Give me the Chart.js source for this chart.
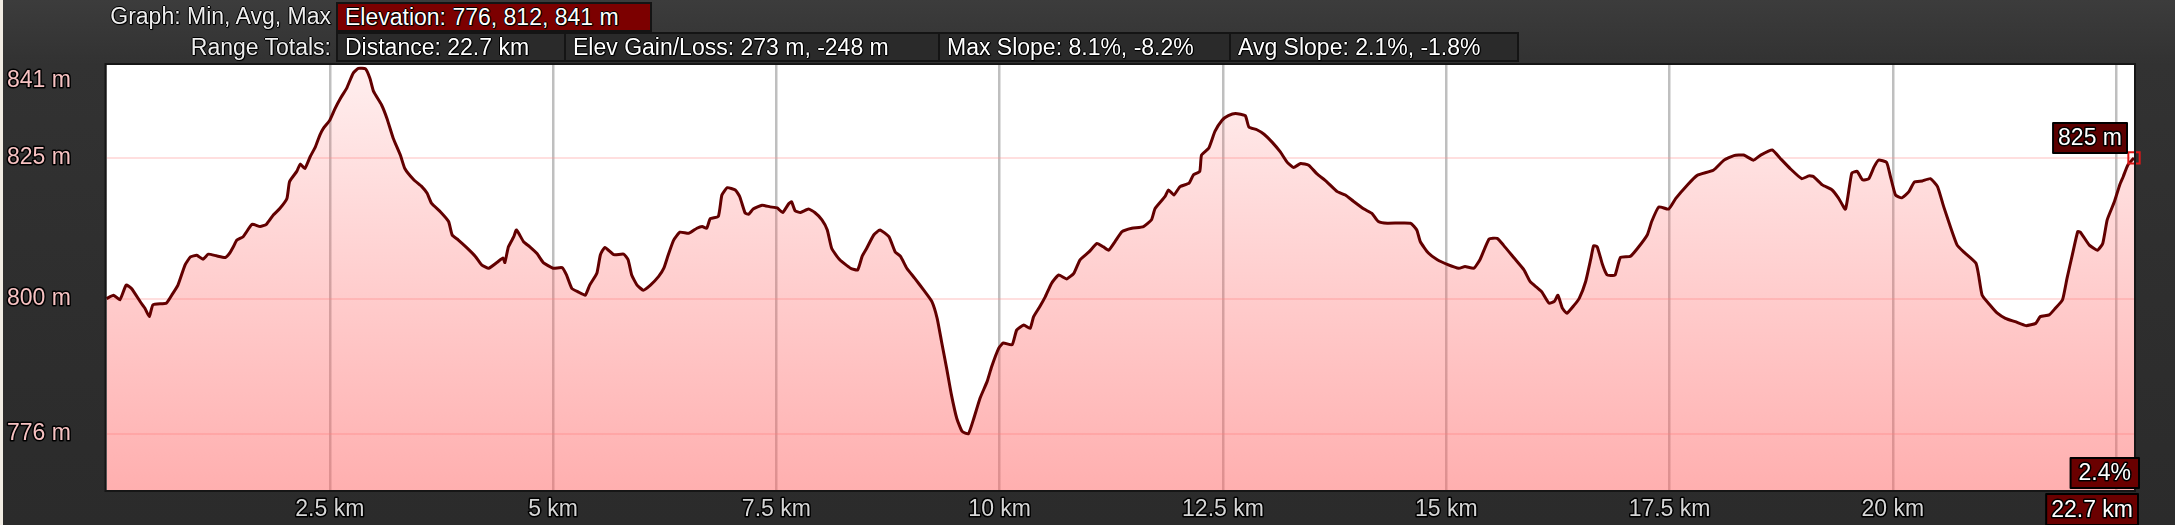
<!DOCTYPE html>
<html>
<head>
<meta charset="utf-8">
<script src="https://cdn.jsdelivr.net/npm/chart.js@4.4.0/dist/chart.umd.min.js"></script>
<style>
body { margin: 0; background: #2e2e2e; }
#wrap {
    position: relative; width: 2175px; height: 525px; overflow: hidden;
    background: linear-gradient(#3c3c3c, #323232 64px, #2e2e2e 300px, #2b2b2b);
    font-family: "Liberation Sans", Arial, sans-serif; font-size: 23px; color: #eeeeee;
}
#wrap::before { content: ""; position: absolute; left: 0; top: 0; width: 3px; height: 525px; background: #f1ece3; }
#profile { position: absolute; left: 0; top: 0; }
.cap, .box {
    position: absolute; white-space: nowrap; box-sizing: border-box;
    text-shadow: -1px 0 #000, 1px 0 #000, 0 -1px #000, 0 1px #000, 1px 1px 1px #000;
}
.cap { text-align: right; left: 0; width: 331px; }
.box { border: 2px solid #141414; background: #2a2a2a; padding-left: 7px; color: #ffffff; }
.red { background: #7c0000; }
</style>
</head>
<body>
<div id="wrap">
    <canvas id="profile" width="2175" height="525"></canvas>
    <div class="cap" style="top:2px; height:29px; line-height:29px;">Graph: Min, Avg, Max</div>
    <div class="box red" style="left:336px; top:2px; width:316px; height:30px; line-height:26px;">Elevation: 776, 812, 841 m</div>
    <div class="cap" style="top:32px; height:30px; line-height:30px;">Range Totals:</div>
    <div class="box" style="left:336px; top:32px; width:230px; height:30px; line-height:26px;">Distance: 22.7 km</div>
    <div class="box" style="left:564px; top:32px; width:376px; height:30px; line-height:26px;">Elev Gain/Loss: 273 m, -248 m</div>
    <div class="box" style="left:938px; top:32px; width:293px; height:30px; line-height:26px;">Max Slope: 8.1%, -8.2%</div>
    <div class="box" style="left:1229px; top:32px; width:290px; height:30px; line-height:26px;">Avg Slope: 2.1%, -1.8%</div>
</div>
<script>
// elevation profile (km, m)
const distKm = [
    0.00, 0.08, 0.15, 0.22, 0.28, 0.38, 0.43, 0.48, 0.52, 0.67, 0.73, 0.80, 0.88, 0.94, 1.01, 1.08, 1.14, 1.23, 1.33, 1.38,
    1.42, 1.46, 1.53, 1.63, 1.72, 1.79, 1.87, 1.94, 2.02, 2.05, 2.13, 2.17, 2.22, 2.28, 2.34, 2.39, 2.43, 2.50, 2.56, 2.62,
    2.69, 2.76, 2.82, 2.90, 2.95, 2.99, 3.08, 3.14, 3.21, 3.29, 3.34, 3.44, 3.53, 3.59, 3.64, 3.74, 3.83, 3.87, 3.94, 4.03,
    4.13, 4.20, 4.28, 4.37, 4.44, 4.46, 4.50, 4.56, 4.59, 4.67, 4.74, 4.82, 4.89, 5.00, 5.10, 5.15, 5.21, 5.28, 5.36, 5.41,
    5.49,
    5.53, 5.58, 5.68, 5.79, 5.84, 5.88, 5.94, 6.01, 6.09, 6.18, 6.24, 6.29, 6.35, 6.42, 6.52, 6.61, 6.67, 6.72, 6.76, 6.85,
    6.89, 6.95, 7.04, 7.09, 7.15, 7.19, 7.24, 7.34, 7.43, 7.51, 7.57, 7.64, 7.67, 7.71, 7.77, 7.86, 7.93, 8.01, 8.07, 8.12,
    8.21, 8.33, 8.41, 8.46, 8.51, 8.59, 8.66, 8.76, 8.83, 8.89, 8.96, 9.05, 9.15, 9.24, 9.30, 9.35, 9.41, 9.46, 9.52, 9.58,
    9.65, 9.71, 9.78, 9.86, 9.91, 9.99, 10.04, 10.14, 10.19, 10.27, 10.34, 10.38, 10.45, 10.51, 10.58, 10.66, 10.75, 10.83, 10.90, 11.00,
    11.09, 11.16,
    11.22, 11.29, 11.37, 11.48, 11.61, 11.70, 11.74, 11.85, 11.89, 11.95, 12.02, 12.12, 12.17, 12.24, 12.26, 12.34, 12.41, 12.49, 12.56, 12.64,
    12.75, 12.79, 12.88, 12.96, 13.05, 13.14, 13.22, 13.29, 13.37, 13.46, 13.55, 13.66, 13.78, 13.87, 13.96, 14.08, 14.17, 14.24, 14.34, 14.60,
    14.67, 14.71, 14.80, 14.90, 15.01, 15.14, 15.21, 15.31, 15.38, 15.48, 15.57, 15.64, 15.76, 15.87, 15.94, 16.02, 16.07, 16.15, 16.21, 16.25,
    16.30, 16.35, 16.43, 16.49, 16.56, 16.62, 16.65, 16.69, 16.75, 16.80, 16.84,
    16.89, 16.95, 17.06, 17.14, 17.25, 17.30, 17.38, 17.49, 17.57, 17.70, 17.81, 17.99, 18.11, 18.22, 18.33, 18.44, 18.52, 18.65, 18.74, 18.85,
    18.98, 19.06, 19.11, 19.21, 19.32, 19.39, 19.47, 19.54, 19.60, 19.66, 19.73, 19.79, 19.84, 19.93, 19.97, 20.03, 20.10, 20.18, 20.24, 20.33,
    20.42, 20.50, 20.57, 20.65, 20.72, 20.80, 20.93, 20.96, 21.00, 21.08, 21.17, 21.26, 21.37, 21.49, 21.60, 21.65, 21.75, 21.82, 21.90, 21.95,
    22.01, 22.07, 22.10, 22.20, 22.29, 22.35, 22.40, 22.48, 22.54, 22.58, 22.63, 22.70
];
const elevM = [
    800.0, 800.6, 799.8, 802.4, 801.8, 799.4, 798.3, 796.8, 798.9, 799.2, 800.6, 802.4, 806.0, 807.4, 807.7, 807.0, 807.9, 807.6, 807.3, 808.1,
    809.2, 810.4, 811.0, 813.2, 812.8, 813.2, 814.9, 816.0, 817.8, 820.8, 822.6, 823.9, 823.1, 825.2, 827.0, 829.1, 830.3, 831.7, 833.8, 835.6,
    837.4, 840.0, 840.9, 840.8, 839.1, 836.8, 834.4, 832.0, 828.5, 825.5, 823.1, 821.1, 819.9, 818.7, 816.9, 815.4, 813.7, 811.3, 810.4, 809.1,
    807.5, 806.0, 805.4, 806.4, 807.2, 806.4, 809.2, 811.0, 812.2, 810.1, 809.2, 808.0, 806.4, 805.4, 805.5, 804.2, 801.8, 801.2, 800.6, 802.4,
    804.5,
    807.8, 809.1, 807.8, 807.9, 806.9, 804.2, 802.4, 801.5, 802.4, 803.9, 805.4, 807.8, 810.4, 811.8, 811.6, 812.5, 812.8, 812.5, 814.2, 814.6,
    818.4, 819.7, 819.3, 818.1, 815.2, 815.0, 815.9, 816.6, 816.3, 816.1, 815.3, 816.9, 817.2, 815.6, 815.3, 815.9, 815.3, 814.0, 812.2, 808.9,
    806.9, 805.4, 805.1, 807.5, 808.9, 811.3, 812.2, 811.0, 808.3, 807.5, 805.4, 803.6, 801.5, 799.5, 796.5, 792.3, 787.3, 782.9, 778.7, 776.4,
    776.0, 778.7, 782.3, 785.3, 787.9, 791.2, 792.1, 791.8, 794.4, 795.3, 794.7, 796.8, 798.6, 800.3, 802.7, 804.2, 803.5, 804.5, 806.9, 808.3,
    809.8, 809.2,
    808.6, 810.1, 811.9, 812.5, 812.8, 814.0, 816.0, 818.1, 819.3, 818.4, 819.9, 820.5, 822.0, 822.6, 825.5, 826.7, 829.7, 831.7, 832.5, 832.9,
    832.5, 830.5, 830.0, 829.2, 827.8, 826.1, 824.2, 823.3, 824.0, 823.7, 822.2, 820.8, 819.0, 818.4, 817.3, 815.9, 815.1, 813.7, 813.4, 813.4,
    812.2, 810.1, 808.1, 806.9, 806.1, 805.4, 805.7, 805.4, 807.0, 810.6, 810.7, 809.5, 807.2, 805.1, 803.0, 801.9, 801.2, 799.2, 799.5, 800.6,
    798.3, 797.4, 798.8, 800.1, 803.0, 807.2, 809.4, 809.2, 806.0, 804.2, 804.1,
    804.2, 807.3, 807.5, 808.9, 811.3, 813.7, 816.3, 815.9, 817.8, 820.2, 821.9, 822.8, 824.6, 825.4, 825.5, 824.6, 825.5, 826.4, 824.9, 823.1,
    821.3, 821.8, 821.7, 820.2, 819.3, 817.9, 815.9, 822.3, 822.6, 821.1, 821.3, 823.4, 824.6, 824.2, 821.9, 818.4, 817.9, 819.0, 820.7, 820.9,
    821.3, 819.9, 816.3, 812.5, 809.5, 808.2, 806.3, 804.2, 800.6, 799.0, 797.4, 796.5, 795.9, 795.2, 795.6, 796.8, 797.1, 798.3, 799.8, 803.6,
    807.8, 811.9, 811.8, 809.5, 808.6, 809.8, 814.0, 817.2, 820.2, 821.7, 823.7, 825.0
];
const xTickKm = [2.5, 5, 7.5, 10, 12.5, 15, 17.5, 20, 22.5];
const xLabelKm = [2.5, 5, 7.5, 10, 12.5, 15, 17.5, 20];
const yGridM = [776, 800, 825];
const yLabelM = [776, 800, 825, 841];
const endSlope = '2.4%';

const FONT = '23px "Liberation Sans", Arial, sans-serif';
const lastIdx = distKm.length - 1;

function outlined(ctx, text, x, y, color) {
    ctx.lineWidth = 3;
    ctx.strokeStyle = '#000';
    ctx.strokeText(text, x, y);
    ctx.fillStyle = color;
    ctx.fillText(text, x, y);
}

function tagBox(ctx, text, right, top, height, pad, bg) {
    const w = ctx.measureText(text).width + pad * 2;
    ctx.fillStyle = bg;
    ctx.fillRect(right - w, top, w, height);
    ctx.lineWidth = 2;
    ctx.strokeStyle = '#000';
    ctx.strokeRect(right - w, top, w, height);
    ctx.textAlign = 'center';
    outlined(ctx, text, right - w / 2, top + height / 2 + 1, '#ffffff');
}

const profileDecor = {
    id: 'profileDecor',
    beforeDraw(chart) {
        const { ctx, chartArea: a } = chart;
        ctx.save();
        ctx.fillStyle = '#ffffff';
        ctx.fillRect(a.left, a.top, a.right - a.left, a.bottom - a.top);
        ctx.restore();
    },
    afterDraw(chart) {
        const { ctx, chartArea: a, scales: { x, y } } = chart;
        ctx.save();
        ctx.strokeStyle = '#161616';
        ctx.lineWidth = 2;
        ctx.strokeRect(a.left - 1, a.top - 1, a.right - a.left + 2, a.bottom - a.top + 2);

        ctx.font = FONT;
        ctx.lineJoin = 'round';
        ctx.textBaseline = 'middle';

        ctx.textAlign = 'left';
        yLabelM.forEach(v => {
            const py = Math.max(y.getPixelForValue(v), a.top + 16);
            outlined(ctx, v + ' m', 7, py, '#f7c2c2');
        });

        ctx.textAlign = 'center';
        xLabelKm.forEach(v => {
            outlined(ctx, v + ' km', x.getPixelForValue(v), a.bottom + 20, '#d6d6d6');
        });

        const py = y.getPixelForValue(elevM[lastIdx]);
        tagBox(ctx, Math.round(elevM[lastIdx]) + ' m', a.right - 7, py - 35, 30, 5, '#5c0000');
        tagBox(ctx, endSlope, a.right + 5, a.bottom - 32, 30, 8, '#6a0000');
        tagBox(ctx, distKm[lastIdx] + ' km', a.right + 4, a.bottom + 4, 31, 5, '#6a0000');
        ctx.restore();
    }
};

new Chart(document.getElementById('profile'), {
    type: 'line',
    data: {
        datasets: [{
            data: distKm.map((d, i) => ({ x: d, y: elevM[i] })),
            borderColor: '#620000',
            borderWidth: 3,
            fill: 'start',
            backgroundColor: c => {
                const a = c.chart.chartArea;
                if (!a) return 'rgba(255,96,96,0.3)';
                const g = c.chart.ctx.createLinearGradient(0, a.top, 0, a.bottom);
                g.addColorStop(0, 'rgba(255,96,96,0.10)');
                g.addColorStop(1, 'rgba(255,96,96,0.50)');
                return g;
            },
            pointStyle: 'rect',
            pointRadius: c => c.dataIndex === lastIdx ? 8 : 0,
            pointBorderColor: '#e01818',
            pointBorderWidth: 2,
            pointBackgroundColor: 'rgba(0,0,0,0)',
            tension: 0.15,
            clip: false
        }]
    },
    options: {
        responsive: false,
        devicePixelRatio: 1,
        animation: false,
        layout: { padding: { left: 106.5, right: 41, top: 65, bottom: 35 } },
        plugins: { legend: { display: false }, tooltip: { enabled: false } },
        scales: {
            x: {
                type: 'linear', min: 0, max: 22.7,
                afterBuildTicks: s => { s.ticks = xTickKm.map(v => ({ value: v })); },
                ticks: { display: false },
                grid: { color: 'rgba(0,0,0,0.25)', lineWidth: 2.5, drawTicks: false },
                border: { display: false }
            },
            y: {
                type: 'linear', min: 766, max: 841.5,
                afterBuildTicks: s => { s.ticks = yGridM.map(v => ({ value: v })); },
                ticks: { display: false },
                grid: { color: 'rgba(255,150,150,0.3)', lineWidth: 2, drawTicks: false },
                border: { display: false }
            }
        }
    },
    plugins: [profileDecor]
});
</script>
</body>
</html>
